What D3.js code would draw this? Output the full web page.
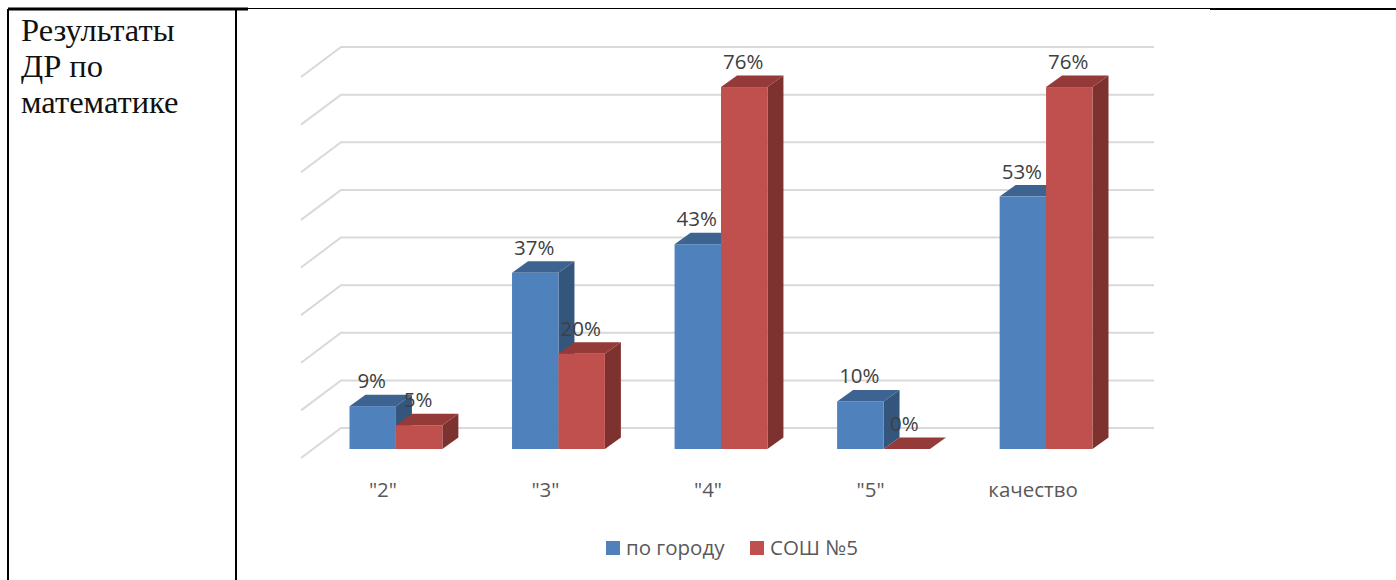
<!DOCTYPE html>
<html lang="ru">
<head>
    <meta charset="UTF-8">
    <title>Результаты ДР по математике</title>
    <script src="https://d3js.org/d3.v7.min.js"></script>
    <style>
        html, body {
            margin: 0;
            padding: 0;
            background: #fff;
            overflow: hidden;
        }
        svg {
            display: block;
        }
        .grid {
            fill: none;
            stroke: #d9d9d9;
            stroke-width: 2px;
        }
        .cell-text {
            font-family: "Liberation Serif", serif;
            font-size: 32.5px;
            fill: #111;
        }
        .value-label {
            font-family: "Open Sans", sans-serif;
            font-size: 20.5px;
            fill: #404040;
            text-anchor: middle;
        }
        .axis text, .legend-label {
            font-family: "Open Sans", sans-serif;
            font-size: 20.5px;
            fill: #595959;
        }
    </style>
</head>
<body>
    <div id="chart"></div>

    <script>
        // Data
        const categories = ['"2"', '"3"', '"4"', '"5"', "качество"];
        const seriesNames = ["по городу", "СОШ №5"];
        const cityValues = [9, 37, 43, 10, 53];
        const schoolValues = [5, 20, 76, 0, 76];
        const gridTicks = [0, 10, 20, 30, 40, 50, 60, 70, 80];
        const cellLines = ["Результаты", "ДР по", "математике"];

        const colors = {
            "по городу": { front: "#4f81bd", side: "#34557c", top: "#3d6491" },
            "СОШ №5": { front: "#c0504d", side: "#7d3230", top: "#943a38" }
        };

        const width = 1396, height = 580;

        // Bar box depth, and the depth of the walls
        const barDx = 16, barDy = -11.5;
        const wallBackDy = -21;
        const wallLeft = 301, wallBack = 341, wallRight = 1154, wallFrontDy = 9;

        const x = d3.scaleBand()
                    .domain(categories)
                    .range([349.5, 1092.5])
                    .paddingInner(0.4287);

        const xInner = d3.scaleBand()
                         .domain(seriesNames)
                         .range([0, x.bandwidth()]);

        const y = d3.scaleLinear()
                    .domain([0, 80])
                    .range([449, 68]);

        const svg = d3.select("#chart")
                      .append("svg")
                      .attr("width", width)
                      .attr("height", height);

        // Table borders around the chart
        const borders = [
            [8, 9, 248, 9, 3],
            [248, 8.5, 1210, 8.5, 1],
            [1210, 9, 1396, 9, 2],
            [8, 9, 8, 580, 2],
            [236, 9, 236, 580, 2]
        ];
        svg.selectAll("line.border")
           .data(borders)
           .join("line")
           .attr("class", "border")
           .attr("x1", d => d[0])
           .attr("y1", d => d[1])
           .attr("x2", d => d[2])
           .attr("y2", d => d[3])
           .attr("stroke", "#000")
           .attr("stroke-width", d => d[4]);

        svg.selectAll("text.cell-text")
           .data(cellLines)
           .join("text")
           .attr("class", "cell-text")
           .attr("x", 21)
           .attr("y", (d, i) => 41 + i * 36)
           .text(d => d);

        // Gridlines: diagonal on the side wall, then flat on the back wall
        svg.selectAll("path.grid")
           .data(gridTicks)
           .join("path")
           .attr("class", "grid")
           .attr("d", d => {
               const yBack = y(d) + wallBackDy;
               return `M${wallLeft},${y(d) + wallFrontDy}L${wallBack},${yBack}H${wallRight}`;
           });

        // One 3D box for each value, blue first so red sits in front of it
        const rows = seriesNames.flatMap((name, s) =>
            categories.map((cat, i) => ({
                name, cat,
                value: (s === 0 ? cityValues : schoolValues)[i]
            })));

        const boxes = svg.selectAll("g.box")
                         .data(rows)
                         .join("g")
                         .attr("class", "box");

        const left = d => x(d.cat) + xInner(d.name);
        const w = xInner.bandwidth();

        boxes.append("path")
             .attr("fill", d => colors[d.name].side)
             .attr("d", d => `M${left(d) + w},${y(d.value)}l${barDx},${barDy}V${y(0) + barDy}l${-barDx},${-barDy}Z`);

        boxes.append("path")
             .attr("fill", d => colors[d.name].top)
             .attr("d", d => `M${left(d)},${y(d.value)}l${barDx},${barDy}h${w}l${-barDx},${-barDy}Z`);

        boxes.append("rect")
             .attr("fill", d => colors[d.name].front)
             .attr("x", d => left(d))
             .attr("y", d => y(d.value))
             .attr("width", w)
             .attr("height", d => y(0) - y(d.value));

        // Value labels go on last, they overlap the boxes
        svg.selectAll("text.value-label")
           .data(rows)
           .join("text")
           .attr("class", "value-label")
           .attr("x", d => left(d) + w / 2 - (d.value === 0 ? 2.5 : 1))
           .attr("y", d => y(d.value) - 18)
           .text(d => d.value + "%");

        // Category axis
        const axis = svg.append("g")
                        .attr("class", "axis")
                        .attr("transform", "translate(-13, 479)")
                        .call(d3.axisBottom(x).tickSize(0).tickPadding(3));
        axis.select(".domain").remove();

        // Legend
        const legendX = [606, 750];
        const legend = svg.selectAll("g.legend")
                          .data(seriesNames)
                          .join("g")
                          .attr("class", "legend")
                          .attr("transform", (d, i) => `translate(${legendX[i]}, 541)`);

        legend.append("rect")
              .attr("width", 14)
              .attr("height", 14)
              .attr("fill", d => colors[d].front);

        legend.append("text")
              .attr("class", "legend-label")
              .attr("x", 20)
              .attr("y", 14)
              .text(d => d);
    </script>
</body>
</html>
